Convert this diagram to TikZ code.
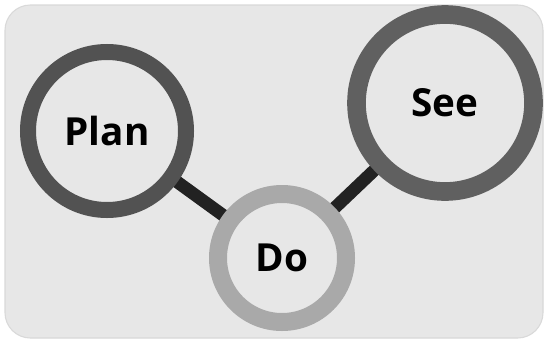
\documentclass[tikz,border=0pt]{standalone}
\usepackage{fontspec}
\setmainfont{Open Sans}
\begin{document}
\begin{tikzpicture}[x=0.75pt,y=-0.75pt,
  ring/.style={circle,draw,fill=bgc,inner sep=0pt,font=\bfseries\fontsize{29}{35}\selectfont,text=black},
  link/.style={draw=linkc,line width=9.5pt}]
\definecolor{bgc}{HTML}{E7E7E7}
\definecolor{linkc}{HTML}{222222}
\definecolor{planc}{HTML}{525252}
\definecolor{seec}{HTML}{606060}
\definecolor{doc}{HTML}{A9A9A9}
\useasboundingbox (0,0) rectangle (548,343);
\fill[white] (0,0) rectangle (548,343);
\draw[fill=bgc,draw=black!15,line width=0.8pt,rounded corners=19pt] (5,5) rectangle (543,338);
\coordinate (pc) at (107,131);
\coordinate (sc) at (445,103);
\coordinate (dc) at (282,258);
\draw[link] (pc) -- (dc);
\draw[link] (sc) -- (dc);
\node[ring,draw=planc,line width=12pt,minimum size=158*0.75pt] (plan) at (pc) {Plan};
\node[ring,draw=seec,line width=14pt,minimum size=177*0.75pt] (see) at (sc) {See};
\node[ring,draw=doc,line width=13.5pt,minimum size=128*0.75pt] (do) at (dc) {Do};
\end{tikzpicture}
\end{document}
